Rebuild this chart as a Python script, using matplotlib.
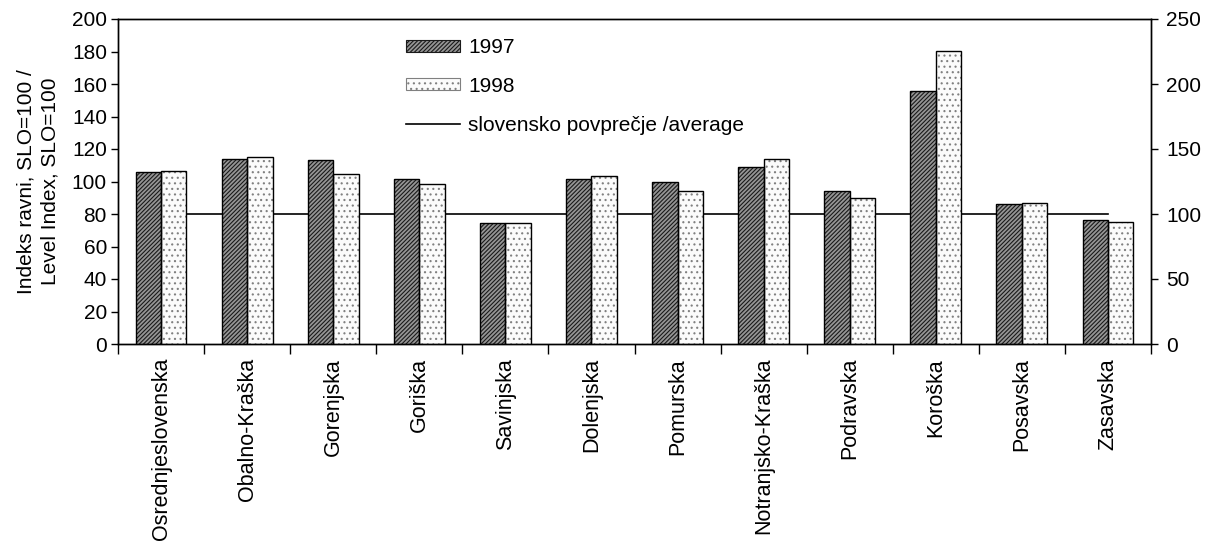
import numpy as np
import matplotlib
matplotlib.use("Agg")
import matplotlib.pyplot as plt
from matplotlib.patches import Patch
from matplotlib.lines import Line2D

plt.rcParams['font.family'] = ['Liberation Sans', 'DejaVu Sans']
plt.rcParams['hatch.linewidth'] = 0.8

regions = ["Osrednjeslovenska", "Obalno-Kraška", "Gorenjska", "Goriška", "Savinjska",
           "Dolenjska", "Pomurska", "Notranjsko-Kraška", "Podravska", "Koroška",
           "Posavska", "Zasavska"]
# bars are read on the left axis, the average on the right one
idx_1997 = [105.7, 113.7, 113.2, 101.3, 74.3, 101.4, 99.5, 108.7, 94.0, 155.5, 86.0, 76.3]
idx_1998 = [106.7, 114.9, 104.6, 98.3, 74.3, 103.4, 94.2, 113.7, 90.0, 180.5, 87.0, 75.3]
avg_slo = 100

fs = 15
fig = plt.figure(figsize=(12.06, 5.47), dpi=100)
ax = fig.add_axes([118 / 1206, 1 - 344 / 547, (1151 - 118) / 1206, (344 - 19) / 547])
ax2 = ax.twinx()

x = np.arange(len(regions))
w = 0.295

def hatched(xpos, vals, face, hatch, hcol):
    ax.bar(xpos, vals, w, color=face, edgecolor=hcol, hatch=hatch, linewidth=0, zorder=2)
    ax.bar(xpos, vals, w, fill=False, edgecolor='black', linewidth=1.0, zorder=3)

hatched(x - w / 2, idx_1997, '#959595', '////////', '#1a1a1a')
hatched(x + w / 2, idx_1998, '#fbfbfb', '...', '#808080')

ax2.plot(x, [avg_slo] * len(x), color='black', linewidth=1.2, zorder=4)

ax.set_xlim(-0.5, len(regions) - 0.5)
ax.set_ylim(0, 200)
ax.set_yticks(np.arange(0, 201, 20))
ax2.set_ylim(0, 250)
ax2.set_yticks(np.arange(0, 251, 50))

# tick marks between categories, names under the centres
ax.set_xticks(np.arange(len(regions) + 1) - 0.5)
ax.set_xticklabels([])
ax.set_xticks(x, minor=True)
ax.set_xticklabels(regions, minor=True, rotation=90, fontsize=15.5)
ax.tick_params(axis='x', which='major', direction='out', length=7, width=1)
ax.tick_params(axis='x', which='minor', length=0, pad=10)
ax.tick_params(axis='y', direction='out', length=5, width=1, labelsize=fs, pad=3)
ax2.tick_params(axis='y', direction='out', length=5, width=1, labelsize=fs, pad=6)

ax.set_ylabel("Indeks ravni, SLO=100 /\nLevel Index, SLO=100", fontsize=fs, labelpad=9,
              linespacing=1.35)

for a in (ax, ax2):
    for s in a.spines.values():
        s.set_linewidth(1.0)
        s.set_color('black')
ax.set_zorder(ax2.get_zorder() + 1)
ax.patch.set_visible(False)
ax2.set_zorder(0)

handles = [
    Patch(facecolor='#959595', edgecolor='#1a1a1a', hatch='////////', linewidth=0.8),
    Patch(facecolor='#fbfbfb', edgecolor='#808080', hatch='...', linewidth=0.8),
    Line2D([], [], color='black', linewidth=1.2),
]
fig.legend(handles, ["1997", "1998", "slovensko povprečje /average"], loc='upper left',
           bbox_to_anchor=(406 / 1206, 1 - 38 / 547), frameon=False, fontsize=fs,
           handlelength=2.6, handleheight=0.5, handletextpad=0.4, labelspacing=0.95,
           borderpad=0, borderaxespad=0)

fig.savefig("out.png", dpi=100, facecolor='white')
